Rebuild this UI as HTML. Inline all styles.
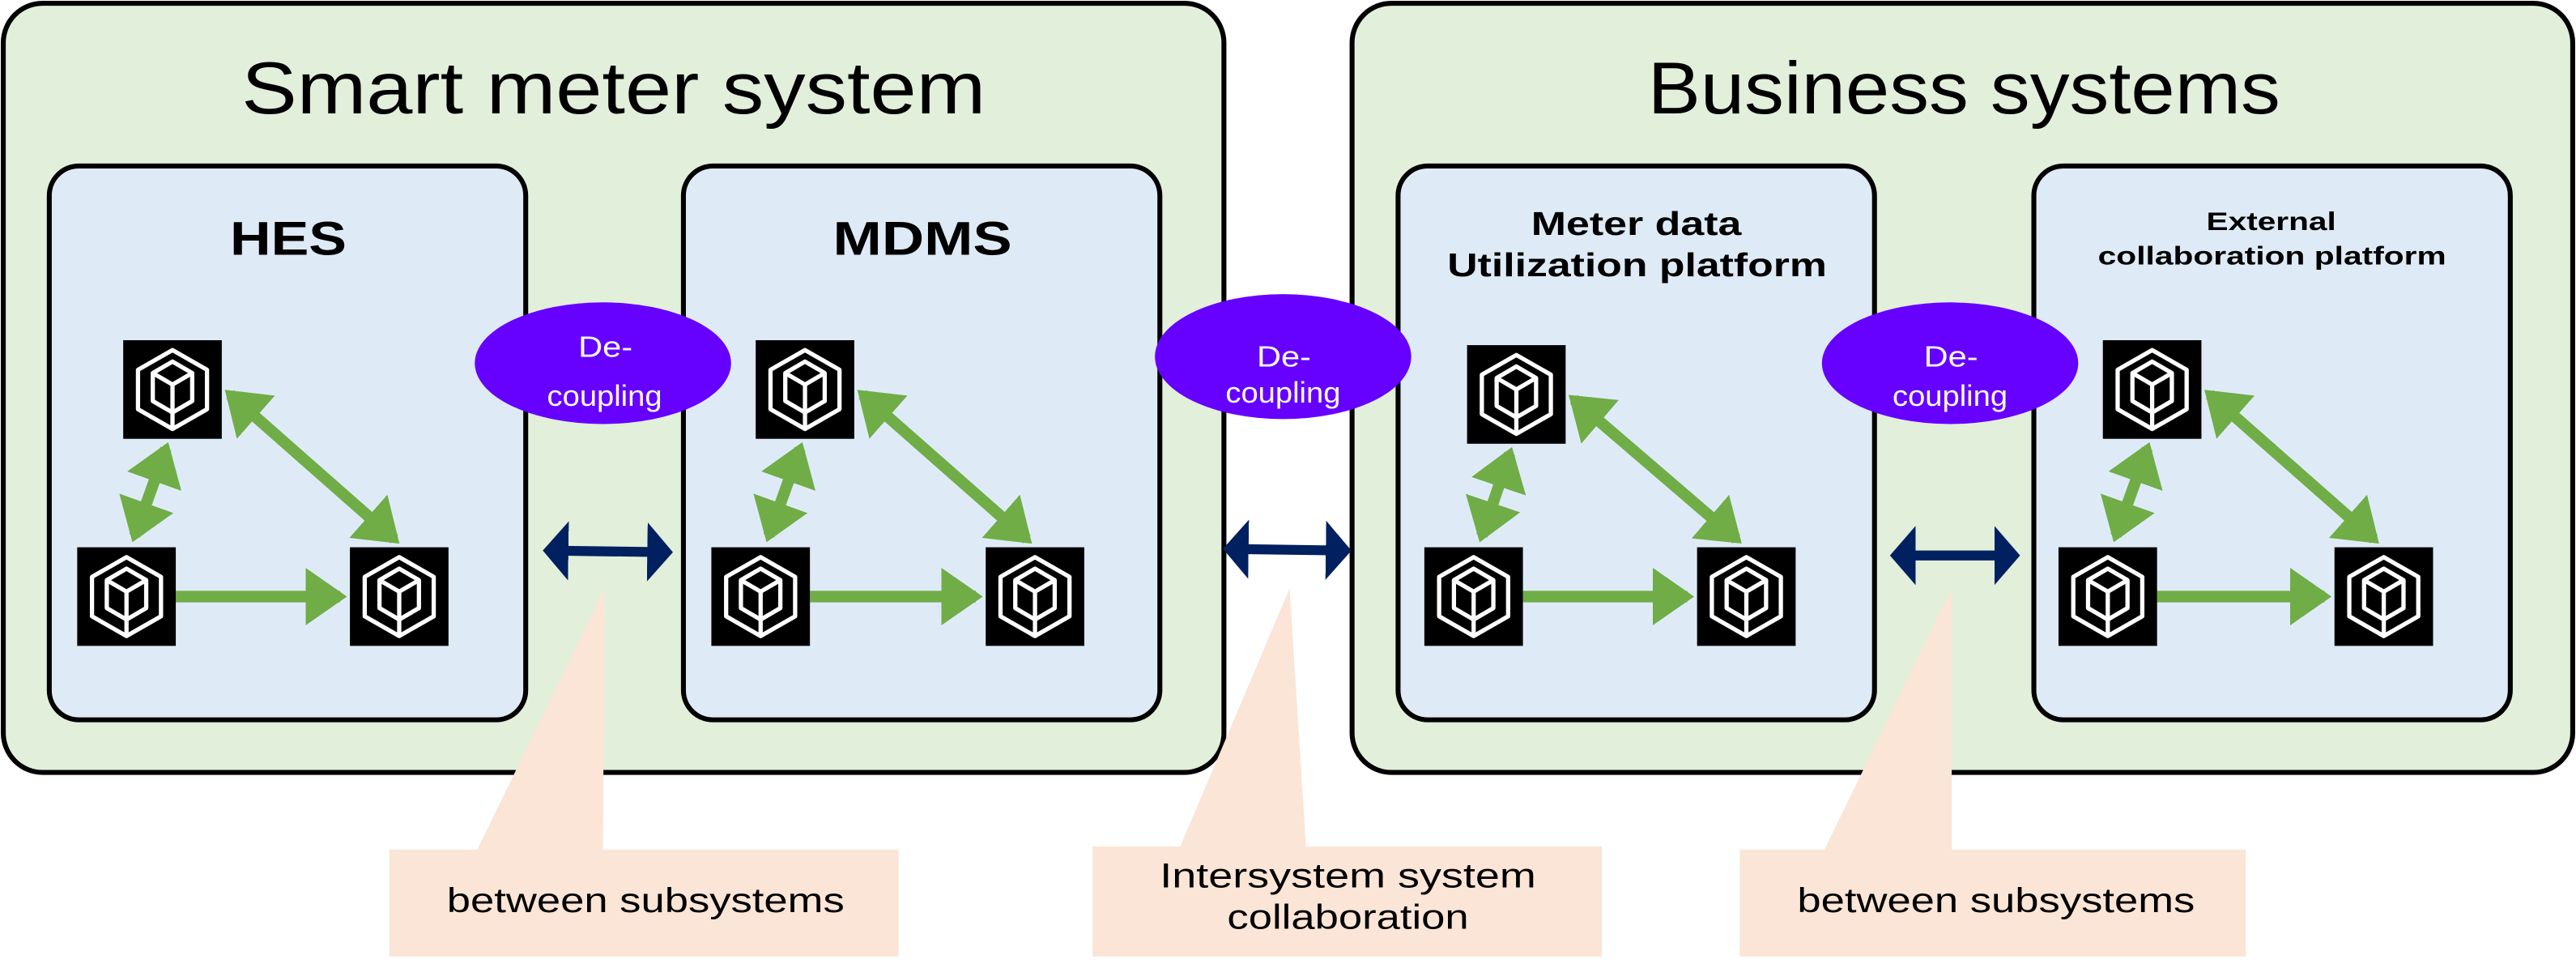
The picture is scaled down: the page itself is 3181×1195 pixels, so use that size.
<!DOCTYPE html>
<html><head><meta charset="utf-8"><style>
html,body{margin:0;padding:0;background:#fff;}
svg{display:block;}
text{font-family:"Liberation Sans","DejaVu Sans",sans-serif;}
</style></head><body>
<svg width="3181" height="1195" viewBox="0 0 1568 589" preserveAspectRatio="none" xmlns="http://www.w3.org/2000/svg">
<defs>
<g id="ic">
<rect x="0" y="0" width="60" height="60" fill="#000"/>
<g fill="none" stroke="#fff" stroke-width="2.6" stroke-linejoin="round">
<polygon points="30,6 51,18 51,42 30,54 9,42 9,18"/>
<polygon points="30,13 42,20 42,37 30,44 18,37 18,20"/>
<polyline points="18,20 30,27 42,20"/>
<line x1="30" y1="27" x2="30" y2="54"/>
</g>
</g>
<marker id="gh" markerWidth="4" markerHeight="5" refX="3" refY="2.5" orient="auto-start-reverse" markerUnits="strokeWidth">
<path d="M0,0 L3.6,2.5 L0,5 Z" fill="#70ad47"/>
</marker>
<marker id="bh" markerWidth="4" markerHeight="6" refX="2" refY="3" orient="auto-start-reverse" markerUnits="strokeWidth">
<path d="M0,0 L2.6,3 L0,6 Z" fill="#002060"/>
</marker>
</defs>
<rect x="0" y="0" width="1568" height="589" fill="#fff"/>
<rect x="2" y="2" width="743" height="468" rx="24" fill="#e2efda" stroke="#000" stroke-width="3"/>
<rect x="823" y="2" width="743" height="468" rx="24" fill="#e2efda" stroke="#000" stroke-width="3"/>
<text x="147" y="69" font-size="45" textLength="453" lengthAdjust="spacingAndGlyphs">Smart meter system</text>
<text x="1003" y="69" font-size="45" textLength="385" lengthAdjust="spacingAndGlyphs">Business systems</text>

<g fill="#deebf7" stroke="#000" stroke-width="3">
<rect x="30" y="101" width="290" height="337" rx="18"/>
<rect x="416" y="101" width="290" height="337" rx="18"/>
<rect x="851" y="101" width="290" height="337" rx="18"/>
<rect x="1238" y="101" width="290" height="337" rx="18"/>
</g>
<g font-weight="bold">
<text x="140" y="155" font-size="29" textLength="71" lengthAdjust="spacingAndGlyphs">HES</text>
<text x="507" y="155" font-size="29" textLength="109" lengthAdjust="spacingAndGlyphs">MDMS</text>
<text x="932" y="143" font-size="20" textLength="128" lengthAdjust="spacingAndGlyphs">Meter data</text>
<text x="881" y="168" font-size="20" textLength="231" lengthAdjust="spacingAndGlyphs">Utilization platform</text>
<text x="1343" y="140" font-size="15.5" textLength="79" lengthAdjust="spacingAndGlyphs">External</text>
<text x="1277" y="161" font-size="15.5" textLength="212" lengthAdjust="spacingAndGlyphs">collaboration platform</text>
</g>

<g fill="#6600ff">
<ellipse cx="367" cy="221" rx="78" ry="37"/>
<ellipse cx="781" cy="217" rx="78" ry="38"/>
<ellipse cx="1187" cy="221" rx="78" ry="37"/>
</g>
<g fill="#fff" font-size="18">
<text x="352" y="217" textLength="33" lengthAdjust="spacingAndGlyphs">De-</text><text x="333" y="247" textLength="70" lengthAdjust="spacingAndGlyphs">coupling</text>
<text x="765" y="223" textLength="33" lengthAdjust="spacingAndGlyphs">De-</text><text x="746" y="245" textLength="70" lengthAdjust="spacingAndGlyphs">coupling</text>
<text x="1171" y="223" textLength="33" lengthAdjust="spacingAndGlyphs">De-</text><text x="1152" y="247" textLength="70" lengthAdjust="spacingAndGlyphs">coupling</text>
</g>

<g stroke="#70ad47" stroke-width="7" fill="none">
<line x1="107" y1="363" x2="207" y2="363" marker-end="url(#gh)"/>
<line x1="82" y1="326" x2="101" y2="273" marker-start="url(#gh)" marker-end="url(#gh)"/>
<line x1="140" y1="240" x2="240" y2="328" marker-start="url(#gh)" marker-end="url(#gh)"/>

<line x1="493" y1="363" x2="594" y2="363" marker-end="url(#gh)"/>
<line x1="468" y1="326" x2="487" y2="273" marker-start="url(#gh)" marker-end="url(#gh)"/>
<line x1="525" y1="240" x2="625" y2="328" marker-start="url(#gh)" marker-end="url(#gh)"/>

<line x1="927" y1="363" x2="1027" y2="363" marker-end="url(#gh)"/>
<line x1="902" y1="326" x2="919" y2="276" marker-start="url(#gh)" marker-end="url(#gh)"/>
<line x1="958" y1="243" x2="1057" y2="328" marker-start="url(#gh)" marker-end="url(#gh)"/>

<line x1="1313" y1="363" x2="1415" y2="363" marker-end="url(#gh)"/>
<line x1="1288" y1="326" x2="1307" y2="273" marker-start="url(#gh)" marker-end="url(#gh)"/>
<line x1="1345" y1="240" x2="1445" y2="328" marker-start="url(#gh)" marker-end="url(#gh)"/>
</g>
<use href="#ic" x="75" y="207"/><use href="#ic" x="47" y="333"/><use href="#ic" x="213" y="333"/>
<use href="#ic" x="460" y="207"/><use href="#ic" x="433" y="333"/><use href="#ic" x="600" y="333"/>
<use href="#ic" x="893" y="210"/><use href="#ic" x="867" y="333"/><use href="#ic" x="1033" y="333"/>
<use href="#ic" x="1280" y="207"/><use href="#ic" x="1253" y="333"/><use href="#ic" x="1421" y="333"/>

<g stroke="#002060" stroke-width="6">
<line x1="334" y1="335" x2="406" y2="336" marker-start="url(#bh)" marker-end="url(#bh)"/>
<line x1="748" y1="334" x2="819" y2="335" marker-start="url(#bh)" marker-end="url(#bh)"/>
<line x1="1154" y1="338" x2="1226" y2="338" marker-start="url(#bh)" marker-end="url(#bh)"/>
</g>

<g fill="#fbe5d6">
<polygon points="368,358 367,518 290,518"/>
<rect x="237" y="517" width="310" height="65"/>
<polygon points="785,358 795,516 718,516"/>
<rect x="665" y="515" width="310" height="67"/>
<polygon points="1188,358 1188,518 1110,518"/>
<rect x="1059" y="517" width="308" height="65"/>
</g>
<g font-size="21" fill="#000">
<text x="272" y="555" textLength="242" lengthAdjust="spacingAndGlyphs">between subsystems</text>
<text x="706" y="540" textLength="229" lengthAdjust="spacingAndGlyphs">Intersystem system</text>
<text x="747" y="565" textLength="147" lengthAdjust="spacingAndGlyphs">collaboration</text>
<text x="1094" y="555" textLength="242" lengthAdjust="spacingAndGlyphs">between subsystems</text>
</g>
</svg>
</body></html>
